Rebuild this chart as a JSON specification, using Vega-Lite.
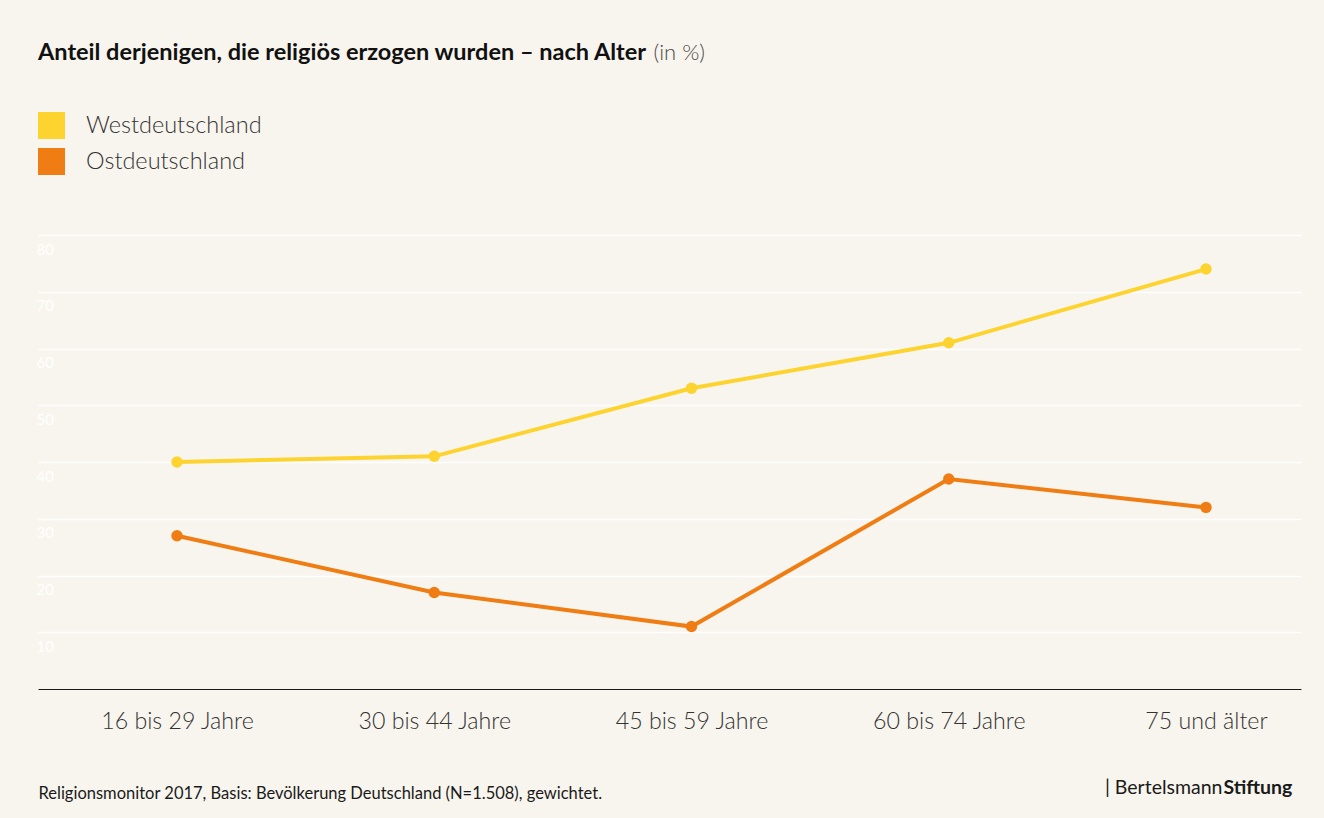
{
  "$schema": "https://vega.github.io/schema/vega-lite/v6.json",
  "autosize": {"type": "none"},
  "width": 1263,
  "height": 454,
  "padding": {"left": 38, "top": 235, "right": 23, "bottom": 129},
  "background": "#F8F5EE",
  "config": {
    "font": "Lato",
    "view": {"stroke": null}
  },
  "title": {
    "text": "Anteil derjenigen, die religiös erzogen wurden – nach Alter",
    "anchor": "start",
    "frame": "group",
    "font": "Lato",
    "fontSize": 23.5,
    "fontWeight": "bold",
    "color": "#111111",
    "baseline": "alphabetic",
    "offset": -42
  },
  "data": {
    "values": [
      {"region": "Westdeutschland", "age": "16 bis 29 Jahre", "value": 40},
      {"region": "Westdeutschland", "age": "30 bis 44 Jahre", "value": 41},
      {"region": "Westdeutschland", "age": "45 bis 59 Jahre", "value": 53},
      {"region": "Westdeutschland", "age": "60 bis 74 Jahre", "value": 61},
      {"region": "Westdeutschland", "age": "75 und älter", "value": 74},
      {"region": "Ostdeutschland", "age": "16 bis 29 Jahre", "value": 27},
      {"region": "Ostdeutschland", "age": "30 bis 44 Jahre", "value": 17},
      {"region": "Ostdeutschland", "age": "45 bis 59 Jahre", "value": 11},
      {"region": "Ostdeutschland", "age": "60 bis 74 Jahre", "value": 37},
      {"region": "Ostdeutschland", "age": "75 und älter", "value": 32}
    ]
  },
  "layer": [
    {
      "mark": {"type": "line", "strokeWidth": 4},
      "encoding": {
        "x": {
          "field": "age",
          "type": "ordinal",
          "sort": ["16 bis 29 Jahre", "30 bis 44 Jahre", "45 bis 59 Jahre", "60 bis 74 Jahre", "75 und älter"],
          "scale": {"type": "point", "padding": 0.4548, "align": 0.594},
          "axis": {
            "orient": "bottom",
            "title": "Religionsmonitor 2017, Basis: Bevölkerung Deutschland (N=1.508), gewichtet.",
            "titleFont": "Lato",
            "titleFontSize": 16.5,
            "titleFontWeight": "normal",
            "titleColor": "#1a1a1a",
            "titleAnchor": "start",
            "titleAlign": "left",
            "titleBaseline": "alphabetic",
            "titleX": 0,
            "titleY": 109,
            "labelAngle": 0,
            "labelFont": "Lato",
            "labelFontSize": 23.2,
            "labelFontWeight": 300,
            "labelColor": "#333333",
            "labelPadding": 21,
            "labelBaseline": "top",
            "labelLimit": 400,
            "ticks": false,
            "domain": true,
            "domainColor": "#1a1a1a",
            "domainWidth": 1,
            "grid": false
          }
        },
        "y": {
          "field": "value",
          "type": "quantitative",
          "scale": {"domain": [0, 80], "nice": false},
          "axis": {
            "orient": "left",
            "values": [10, 20, 30, 40, 50, 60, 70, 80],
            "title": "(in %)",
            "titleAngle": 0,
            "titleFont": "Lato",
            "titleFontSize": 22,
            "titleFontWeight": 300,
            "titleColor": "#4a4a4a",
            "titleAlign": "left",
            "titleBaseline": "alphabetic",
            "titleX": 615,
            "titleY": -176,
            "labelFont": "Lato",
            "labelFontSize": 15,
            "labelColor": "#FFFFFF",
            "labelAlign": "left",
            "labelBaseline": "top",
            "labelPadding": 2,
            "labelOffset": 7,
            "ticks": false,
            "domain": false,
            "grid": true,
            "gridColor": "#FFFFFF",
            "gridWidth": 1.5
          }
        },
        "color": {
          "field": "region",
          "type": "nominal",
          "scale": {"domain": ["Westdeutschland", "Ostdeutschland"], "range": ["#FDD32F", "#EF7D13"]},
          "legend": {
            "orient": "none",
            "legendX": 0,
            "legendY": -123,
            "title": null,
            "padding": 0,
            "symbolType": "square",
            "symbolSize": 729,
            "symbolStrokeWidth": 0,
            "symbolOpacity": 1,
            "labelFont": "Lato",
            "labelFontSize": 23.5,
            "labelFontWeight": 300,
            "labelColor": "#333333",
            "labelOffset": 21,
            "labelLimit": 500,
            "rowPadding": 9
          }
        }
      }
    },
    {
      "mark": {"type": "point", "filled": true, "size": 130, "opacity": 1},
      "encoding": {
        "x": {
          "field": "age",
          "type": "ordinal",
          "sort": ["16 bis 29 Jahre", "30 bis 44 Jahre", "45 bis 59 Jahre", "60 bis 74 Jahre", "75 und älter"],
          "axis": {
            "orient": "top",
            "title": "Stiftung",
            "titleFont": "Lato",
            "titleFontSize": 19.5,
            "titleFontWeight": "bold",
            "titleColor": "#1a1a1a",
            "titleAlign": "left",
            "titleBaseline": "alphabetic",
            "titleAngle": 0,
            "titleX": 1185,
            "titleY": 558,
            "labels": false,
            "ticks": false,
            "domain": false,
            "grid": false
          }
        },
        "y": {
          "field": "value",
          "type": "quantitative",
          "axis": {
            "orient": "right",
            "title": "| Bertelsmann",
            "titleFont": "Lato",
            "titleFontSize": 19.5,
            "titleFontWeight": "normal",
            "titleColor": "#1a1a1a",
            "titleAlign": "right",
            "titleBaseline": "alphabetic",
            "titleAngle": 0,
            "titleX": -79,
            "titleY": 558,
            "labels": false,
            "ticks": false,
            "domain": false,
            "grid": false
          }
        },
        "color": {"field": "region", "type": "nominal"}
      }
    }
  ],
  "resolve": {"axis": {"x": "independent", "y": "independent"}}
}
